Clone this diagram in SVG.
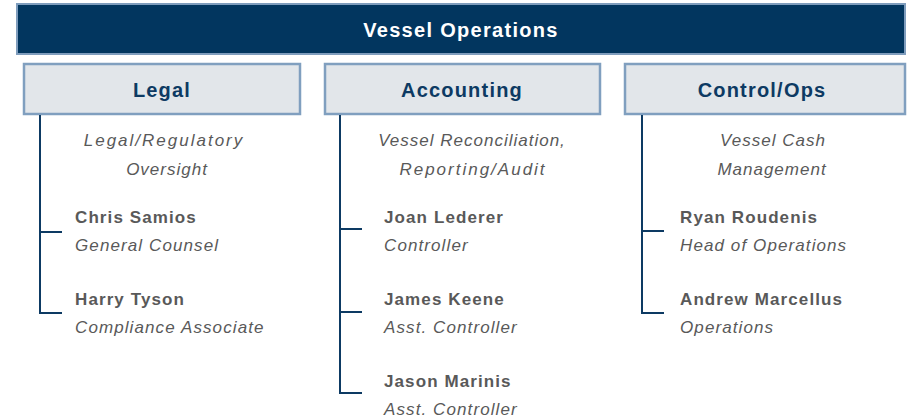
<svg xmlns="http://www.w3.org/2000/svg" width="907" height="419" viewBox="0 0 907 419">
  <style>
    .banner { fill: #02365f; stroke: #7f9dbd; stroke-width: 2; }
    .banner-text { fill: #ffffff; font-family: "Liberation Sans", Arial, sans-serif; font-weight: bold; font-size: 20px; letter-spacing: 1.3px; text-anchor: middle; }
    .dept { fill: #e2e6ea; stroke: #809fbf; stroke-width: 2.5; }
    .dept-text { fill: #0d3a63; font-family: "Liberation Sans", Arial, sans-serif; font-weight: bold; font-size: 20px; letter-spacing: 1.2px; text-anchor: middle; }
    .desc { fill: #595959; font-family: "Liberation Sans", Arial, sans-serif; font-style: italic; font-size: 17px; letter-spacing: 1px; text-anchor: middle; }
    .desc.wide { letter-spacing: 2px; }
    .name { fill: #595959; font-family: "Liberation Sans", Arial, sans-serif; font-weight: bold; font-size: 17px; letter-spacing: 1.1px; }
    .role { fill: #595959; font-family: "Liberation Sans", Arial, sans-serif; font-style: italic; font-size: 17px; letter-spacing: 1.1px; }
    .conn { fill: none; stroke: #0d3a63; stroke-width: 2; }
  </style>

  <!-- Top banner -->
  <g id="vessel-operations">
    <rect class="banner" x="17" y="4" width="888" height="50"/>
    <text class="banner-text" x="461" y="37">Vessel Operations</text>
  </g>

  <!-- Department headers -->
  <g id="legal">
    <rect class="dept" x="24" y="64" width="276" height="50"/>
    <text class="dept-text" x="162" y="97">Legal</text>
  </g>
  <g id="accounting">
    <rect class="dept" x="325" y="64" width="275" height="50"/>
    <text class="dept-text" x="462" y="97">Accounting</text>
  </g>
  <g id="control-ops">
    <rect class="dept" x="625" y="64" width="280" height="50"/>
    <text class="dept-text" x="762" y="97">Control/Ops</text>
  </g>

  <!-- Branch connectors -->
  <g id="connectors">
    <path class="conn" d="M40 115 V313 H62 M40 232 H62"/>
    <path class="conn" d="M340 115 V393 H362 M340 229 H362 M340 312 H362"/>
    <path class="conn" d="M642 115 V313 H664 M642 231 H664"/>
  </g>

  <!-- Legal team -->
  <g id="legal-desc">
    <text class="desc wide" x="164" y="146">Legal/Regulatory</text>
    <text class="desc" x="167" y="175">Oversight</text>
  </g>
  <g id="chris-samios">
    <text class="name" x="75" y="223">Chris Samios</text>
    <text class="role" x="75" y="251">General Counsel</text>
  </g>
  <g id="harry-tyson">
    <text class="name" x="75" y="305">Harry Tyson</text>
    <text class="role" x="75" y="333">Compliance Associate</text>
  </g>

  <!-- Accounting team -->
  <g id="accounting-desc">
    <text class="desc" x="472" y="146">Vessel Reconciliation,</text>
    <text class="desc wide" x="473" y="175">Reporting/Audit</text>
  </g>
  <g id="joan-lederer">
    <text class="name" x="384" y="223">Joan Lederer</text>
    <text class="role" x="384" y="251">Controller</text>
  </g>
  <g id="james-keene">
    <text class="name" x="384" y="305">James Keene</text>
    <text class="role" x="384" y="333">Asst. Controller</text>
  </g>
  <g id="jason-marinis">
    <text class="name" x="384" y="387">Jason Marinis</text>
    <text class="role" x="384" y="415">Asst. Controller</text>
  </g>

  <!-- Control/Ops team -->
  <g id="control-desc">
    <text class="desc" x="773" y="146">Vessel Cash</text>
    <text class="desc" x="772" y="175">Management</text>
  </g>
  <g id="ryan-roudenis">
    <text class="name" x="680" y="223">Ryan Roudenis</text>
    <text class="role" x="680" y="251">Head of Operations</text>
  </g>
  <g id="andrew-marcellus">
    <text class="name" x="680" y="305">Andrew Marcellus</text>
    <text class="role" x="680" y="333">Operations</text>
  </g>
</svg>
